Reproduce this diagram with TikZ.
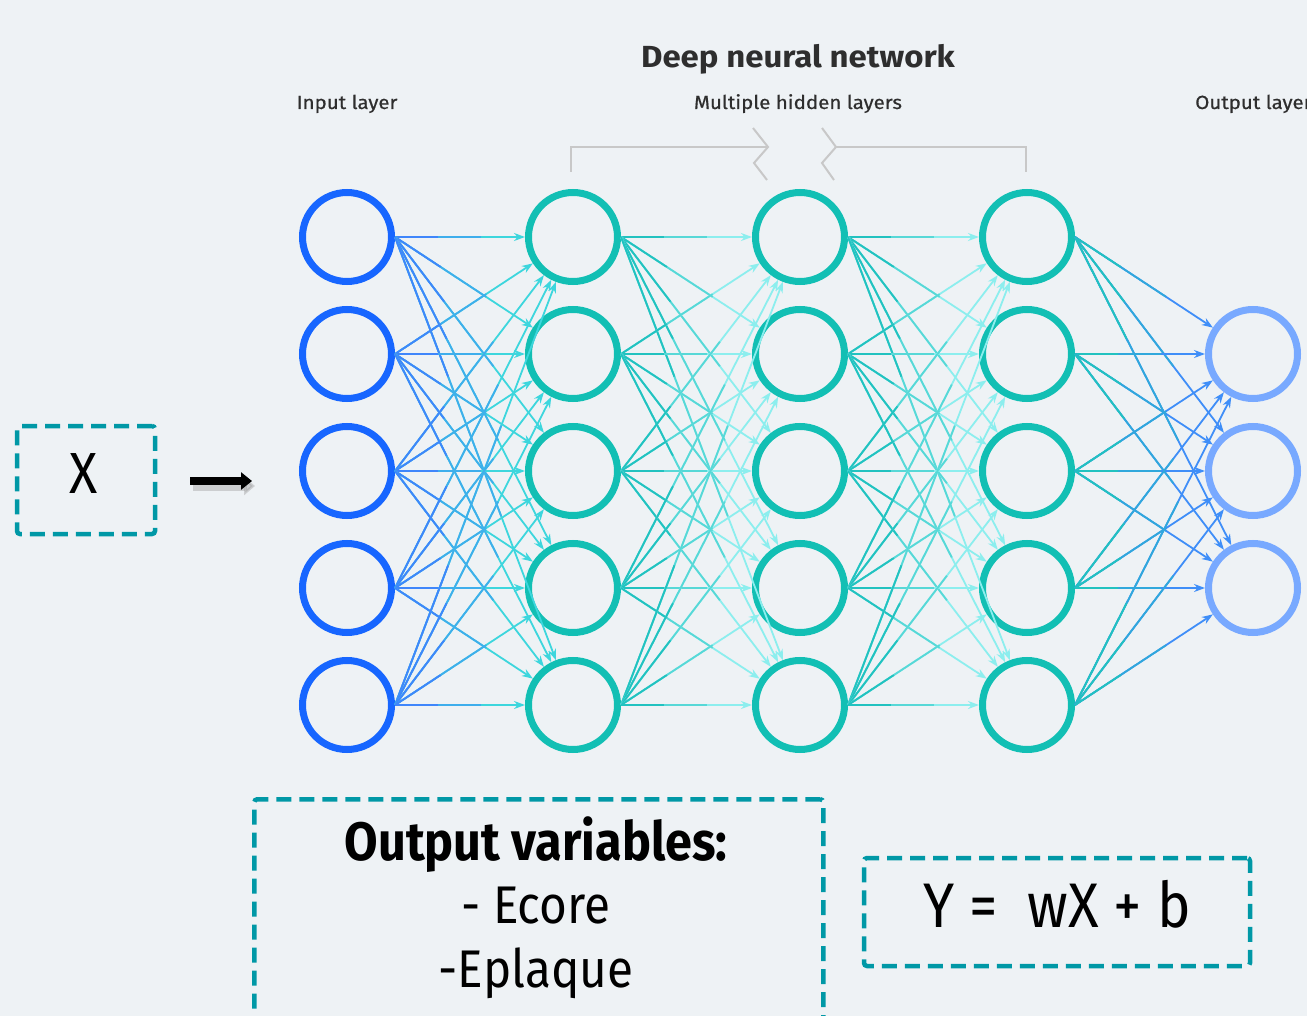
\documentclass[tikz,border=0pt]{standalone}
\usepackage{fontspec}
\setmainfont{Fira Sans}
\newfontfamily\cond[FakeStretch=0.9]{Fira Sans}
\newfontfamily\widefont[FakeStretch=1.08]{Fira Sans}
\newfontfamily\lblfont[FakeStretch=1.08,FakeBold=0.6]{Fira Sans}
\usetikzlibrary{arrows.meta,calc}
\definecolor{bg}{HTML}{EEF2F5}
\definecolor{inblue}{HTML}{1766FF}
\definecolor{hteal}{HTML}{12BFB4}
\definecolor{outblue}{HTML}{78A9FF}
\definecolor{eblue}{HTML}{3F86FB}
\definecolor{ecyan}{HTML}{3DD6DD}
\definecolor{elight}{HTML}{8CEEEE}
\definecolor{eteal}{HTML}{22C2C0}
\definecolor{eout}{HTML}{3F8EF8}
\definecolor{boxteal}{HTML}{0098A6}
\definecolor{brgray}{HTML}{C8C8C8}
\definecolor{txt}{HTML}{2E2E2E}
\newcommand\nnedge[4]{%
  \draw[nnline,#4,-{Stealth[length=11pt,width=8pt]}] (#1.east) -- (#2);
  \path (#1.east) -- (#2) coordinate[pos=0.33] (ea) coordinate[pos=0.66] (eb);
  \draw[nnline,#3!50!#4] (#1.east) -- (eb);
  \draw[nnline,#3] (#1.east) -- (ea);
}
\tikzset{
  neuron/.style={circle,minimum size=89pt,inner sep=0pt,line width=7pt},
  nnline/.style={line width=1.8pt},
  dbox/.style={draw=boxteal,line width=4.5pt,dash pattern=on 15pt off 8pt,rounded corners=3pt,inner sep=0pt},
  bracket/.style={draw=brgray,line width=2pt},
  lbl/.style={text=txt,anchor=base,inner sep=0pt},
}
\begin{document}
\begin{tikzpicture}[x=1pt,y=-1pt]
\fill[bg] (0,0) rectangle (1307,1016);
\useasboundingbox (0,0) rectangle (1307,1016);
\clip (0,0) rectangle (1307,1016);
% titles
\node[lbl,font=\widefont\fontsize{30.5}{34}\selectfont\bfseries] (title) at (798,68) {Deep neural network};
\node[lbl,font=\lblfont\fontsize{19}{22}\selectfont] (hid) at (798,109) {Multiple hidden layers};
\node[lbl,font=\lblfont\fontsize{19}{22}\selectfont] (inl) at (347,109) {Input layer};
\node[lbl,font=\lblfont\fontsize{19}{22}\selectfont,anchor=base west] (outl) at (1195,109) {Output layer};
% bracket
\draw[bracket] (571,172) -- (571,147) -- (768,147);
\draw[bracket] (753,128) -- (768,147) -- (754,163) -- (767,180);
\draw[bracket] (1026,172) -- (1026,147) -- (836,147);
\draw[bracket] (822,128) -- (836,147) -- (822,163) -- (834,180);
% neurons
\foreach \i/\y in {1/237,2/354,3/471,4/588,5/705}{
  \node[neuron,draw=inblue] (I\i) at (347,\y) {};
  \node[neuron,draw=hteal] (A\i) at (573,\y) {};
  \node[neuron,draw=hteal] (B\i) at (800,\y) {};
  \node[neuron,draw=hteal] (C\i) at (1027,\y) {};
}
\foreach \i/\y in {1/354,2/471,3/588}{
  \node[neuron,draw=outblue] (O\i) at (1253,\y) {};
}
% connections
\foreach \s in {1,...,5}{
  \foreach \t in {1,...,5}{
    \nnedge{I\s}{A\t}{eblue}{ecyan}
    \nnedge{A\s}{B\t}{eteal}{elight}
    \nnedge{B\s}{C\t}{eteal}{elight}
  }
  \foreach \t in {1,2,3}{
    \nnedge{C\s}{O\t}{eteal}{eout}
  }
}
% input box and arrow
\node[dbox,minimum width=138pt,minimum height=108pt] (xbox) at (86,480) {};
\node[lbl,font=\cond\fontsize{58}{60}\selectfont,text=black] (xt) at (84,493) {X};
\coordinate (a0) at (190,481);
\coordinate (a1) at (252,481);
\draw[line width=9pt,black!40,opacity=0.4,-{Triangle[length=11pt,width=18pt]}] ($(a0)+(3,5)$) -- ($(a1)+(3,5)$);
\draw[line width=8pt,black,-{Triangle[length=11pt,width=17pt]}] (a0) -- (a1);
% output variables box
\node[dbox,minimum width=569pt,minimum height=240pt,anchor=north west] (obox) at (252,797) {};
\node[lbl,font=\cond\fontsize{54}{58}\selectfont\bfseries,text=black] (ov) at (536,860) {Output variables:};
\node[lbl,font=\cond\fontsize{53}{58}\selectfont,text=black] (e1) at (536,923) {- Ecore};
\node[lbl,font=\cond\fontsize{53}{58}\selectfont,text=black] (e2) at (536,987) {-Eplaque};
% equation box
\node[dbox,minimum width=386pt,minimum height=108pt] (ebox) at (1057,912) {};
\node[lbl,font=\cond\fontsize{63}{64}\selectfont,text=black] (eq) at (1057,927) {Y =\ \ wX + b};
\end{tikzpicture}
\end{document}
